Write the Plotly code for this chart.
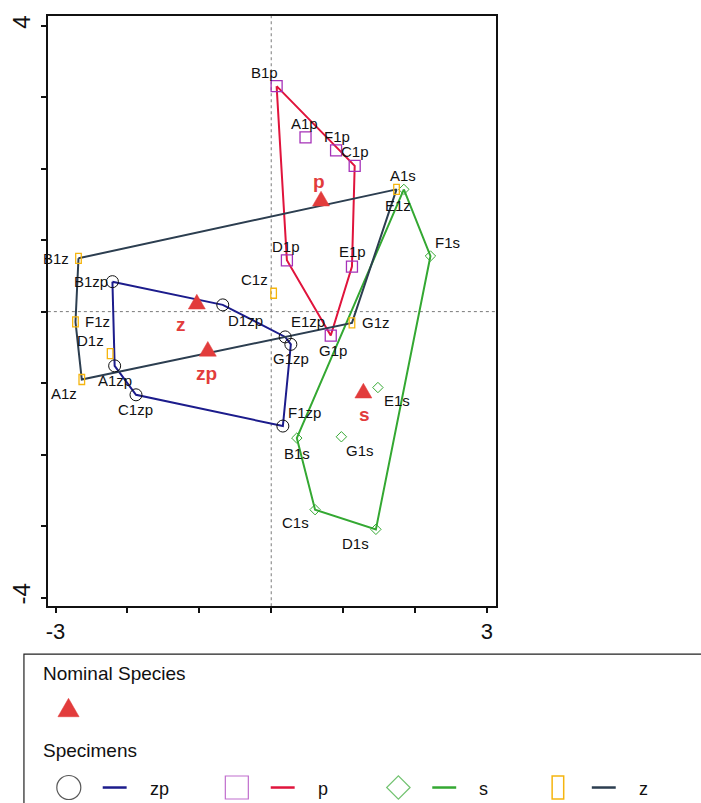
import plotly.graph_objects as go

W, H = 701, 803

# ---- specimen scores (axis 1, axis 2) ----
zp_names = ["A1zp", "B1zp", "C1zp", "D1zp", "E1zp", "F1zp", "G1zp"]
zp_x = [-2.178, -2.209, -1.881, -0.674, 0.194, 0.162, 0.273]
zp_y = [-0.759, 0.419, -1.164, 0.094, -0.354, -1.601, -0.458]

p_names = ["A1p", "B1p", "C1p", "D1p", "E1p", "F1p", "G1p"]
p_x = [0.477, 0.075, 1.161, 0.218, 1.123, 0.902, 0.828]
p_y = [2.437, 3.154, 2.040, 0.718, 0.629, 2.255, -0.335]

s_names = ["A1s", "B1s", "C1s", "D1s", "E1s", "F1s", "G1s"]
s_x = [1.845, 0.356, 0.610, 1.456, 1.484, 2.215, 0.976]
s_y = [1.710, -1.769, -2.771, -3.046, -1.062, 0.778, -1.751]

z_names = ["A1z", "B1z", "C1z", "D1z", "E1z", "F1z", "G1z"]
z_x = [-2.635, -2.681, 0.033, -2.241, 1.743, -2.723, 1.123]
z_y = [-0.950, 0.746, 0.257, -0.587, 1.710, -0.144, -0.158]

# convex hull outlines of each group
zp_hull = ["B1zp", "D1zp", "E1zp", "G1zp", "F1zp", "C1zp", "A1zp", "B1zp"]
p_hull = ["B1p", "C1p", "E1p", "G1p", "D1p", "B1p"]
s_hull = ["A1s", "F1s", "D1s", "C1s", "B1s", "A1s"]
z_hull = ["B1z", "E1z", "G1z", "A1z", "F1z", "B1z"]

# nominal species positions
nom_names = ["zp", "p", "s", "z"]
nom_x = [-0.882, 0.693, 1.282, -1.035]
nom_y = [-0.555, 1.547, -1.140, 0.105]

x_ticks = [-3, -2, -1, 0, 1, 2, 3]
x_ticktext = ["-3", "", "", "", "", "", "3"]
y_ticks = [-4, -3, -2, -1, 0, 1, 2, 3, 4]
y_ticktext = ["-4", "", "", "", "", "", "", "", "4"]

# ---- styling ----
FONT = "Liberation Sans, Arial, sans-serif"
C_ZP_LINE = "#1c1c8c"
C_P_LINE = "#e0143c"
C_P_MARK = "#a530b8"
C_S = "#34a832"
C_Z_MARK = "#f5b50f"
C_Z_LINE = "#2c3e50"
C_NOM = "#e23c3c"

# label offsets (dx, dy) in screen pixels, dy positive downwards
label_offsets = {
    "B1p": (-12, -14), "A1p": (-1, -14), "F1p": (1, -14), "C1p": (0, -14),
    "D1p": (-1, -14), "E1p": (1, -15), "G1p": (2, 15),
    "A1s": (-1, -14), "F1s": (17, -14), "E1s": (19, 13), "G1s": (19, 14),
    "B1s": (0, 15), "C1s": (-20, 13), "D1s": (-20, 14),
    "B1z": (-22, 0), "F1z": (22, 0), "D1z": (-20, -13), "A1z": (-18, 14),
    "C1z": (-19, -14), "G1z": (24, 0), "E1z": (1, 16),
    "B1zp": (-21, 0), "A1zp": (0, 15), "C1zp": (0, 15), "D1zp": (23, 16),
    "E1zp": (23, -15), "G1zp": (0, 14), "F1zp": (22, -14),
}
nom_offsets = {"zp": (-1, 22), "p": (-2, -20), "s": (1, 21), "z": (-16, 20)}

X_RANGE = [-3.107, 3.121]
Y_RANGE = [-4.122, 4.136]
X_DOMAIN = [46 / W, 495 / W]
Y_DOMAIN = [1 - 606 / H, 1 - 15 / H]

TRI_PATH = "M-8.5,-4.9 L8.5,-4.9 L0,9.8 Z"
TRI_PATH_BIG = "M-10.6,-6.1 L10.6,-6.1 L0,12.3 Z"

fig = go.Figure()


def outline(names, xs, ys, order, color):
    idx = {n: i for i, n in enumerate(names)}
    fig.add_trace(go.Scatter(
        x=[xs[idx[n]] for n in order], y=[ys[idx[n]] for n in order],
        mode="lines", line=dict(color=color, width=2),
        hoverinfo="skip", showlegend=False, xaxis="x", yaxis="y"))


outline(zp_names, zp_x, zp_y, zp_hull, C_ZP_LINE)
outline(p_names, p_x, p_y, p_hull, C_P_LINE)
outline(s_names, s_x, s_y, s_hull, C_S)
outline(z_names, z_x, z_y, z_hull, C_Z_LINE)

# specimen markers
fig.add_trace(go.Scatter(x=zp_x, y=zp_y, mode="markers", text=zp_names, showlegend=False,
                         marker=dict(symbol="circle-open", size=12, color="#111111", line=dict(width=1))))
fig.add_trace(go.Scatter(x=p_x, y=p_y, mode="markers", text=p_names, showlegend=False,
                         marker=dict(symbol="square-open", size=11, color=C_P_MARK, line=dict(width=1.3))))
fig.add_trace(go.Scatter(x=s_x, y=s_y, mode="markers", text=s_names, showlegend=False,
                         marker=dict(symbol="diamond-open", size=8, color=C_S, line=dict(width=1))))

shapes = []
annotations = []

# zero reference lines
shapes.append(dict(type="line", xref="x", yref="paper", x0=0, x1=0,
                   y0=Y_DOMAIN[0], y1=Y_DOMAIN[1], layer="below",
                   line=dict(color="#7a7a7a", width=1, dash="dot")))
shapes.append(dict(type="line", xref="paper", yref="y", y0=0, y1=0,
                   x0=X_DOMAIN[0], x1=X_DOMAIN[1], layer="below",
                   line=dict(color="#7a7a7a", width=1, dash="dot")))

# narrow rectangle markers for the z specimens
for xv, yv in zip(z_x, z_y):
    shapes.append(dict(type="rect", xref="x", yref="y", xsizemode="pixel", ysizemode="pixel",
                       xanchor=xv, yanchor=yv, x0=-2.8, x1=2.8, y0=-5, y1=5,
                       line=dict(color=C_Z_MARK, width=1.3), fillcolor="rgba(0,0,0,0)"))

# nominal species triangles
for xv, yv in zip(nom_x, nom_y):
    shapes.append(dict(type="path", xref="x", yref="y", xsizemode="pixel", ysizemode="pixel",
                       xanchor=xv, yanchor=yv, path=TRI_PATH,
                       line=dict(color=C_NOM, width=0.5), fillcolor=C_NOM))

# specimen labels
for names, xs, ys in [(zp_names, zp_x, zp_y), (p_names, p_x, p_y),
                      (s_names, s_x, s_y), (z_names, z_x, z_y)]:
    for n, xv, yv in zip(names, xs, ys):
        dx, dy = label_offsets[n]
        annotations.append(dict(x=xv, y=yv, xref="x", yref="y", text=n, showarrow=False,
                                xshift=dx, yshift=-dy,
                                font=dict(family=FONT, size=15, color="#111111")))

for n, xv, yv in zip(nom_names, nom_x, nom_y):
    dx, dy = nom_offsets[n]
    annotations.append(dict(x=xv, y=yv, xref="x", yref="y", text="<b>%s</b>" % n, showarrow=False,
                            xshift=dx, yshift=-dy,
                            font=dict(family=FONT, size=19, color=C_NOM)))

# ---- key panel below the plot (pixel-based overlay axes) ----
shapes.append(dict(type="rect", xref="x2", yref="y2", x0=22, x1=730, y0=654, y1=830,
                   line=dict(color="#222222", width=1.2), fillcolor="rgba(0,0,0,0)"))
annotations.append(dict(x=39, y=673, xref="x2", yref="y2", text="Nominal Species", showarrow=False,
                        xanchor="left", font=dict(family=FONT, size=19, color="#111111")))
annotations.append(dict(x=39, y=750, xref="x2", yref="y2", text="Specimens", showarrow=False,
                        xanchor="left", font=dict(family=FONT, size=19, color="#111111")))
shapes.append(dict(type="path", xref="x2", yref="y2", xsizemode="pixel", ysizemode="pixel",
                   xanchor=66.7, yanchor=710.5, path=TRI_PATH_BIG,
                   line=dict(color=C_NOM, width=0.5), fillcolor=C_NOM))

key_groups = ["zp", "p", "s", "z"]
key_x = [67, 235.5, 397.5, 557.5]
key_line_colors = [C_ZP_LINE, C_P_LINE, C_S, C_Z_LINE]
KEY_Y = 787.5
fig.add_trace(go.Scatter(x=key_x[:3], y=[KEY_Y] * 3, xaxis="x2", yaxis="y2", mode="markers",
                         showlegend=False, hoverinfo="skip",
                         marker=dict(symbol=["circle-open", "square-open", "diamond-open"],
                                     size=[24, 23, 18], color=["#111111", C_P_MARK, C_S],
                                     line=dict(width=1.2))))
shapes.append(dict(type="rect", xref="x2", yref="y2", x0=key_x[3] - 5.8, x1=key_x[3] + 5.8,
                   y0=KEY_Y - 11.5, y1=KEY_Y + 11.5,
                   line=dict(color=C_Z_MARK, width=1.5), fillcolor="rgba(0,0,0,0)"))
for g, kx, lc in zip(key_groups, key_x, key_line_colors):
    shapes.append(dict(type="line", xref="x2", yref="y2", x0=kx + 34, x1=kx + 58,
                       y0=KEY_Y, y1=KEY_Y, line=dict(color=lc, width=2.5)))
    annotations.append(dict(x=kx + 79, y=KEY_Y + 1, xref="x2", yref="y2", text=g, showarrow=False,
                            xanchor="left", font=dict(family=FONT, size=18, color="#111111")))

axis_common = dict(showgrid=False, zeroline=False, showline=True, mirror=True,
                   linecolor="#111111", linewidth=1.5, ticks="outside", ticklen=5,
                   tickwidth=1.5, tickcolor="#111111")

fig.update_layout(
    width=W, height=H, margin=dict(l=0, r=0, t=0, b=0),
    paper_bgcolor="white", plot_bgcolor="rgba(0,0,0,0)",
    showlegend=False,
    xaxis=dict(range=X_RANGE, domain=X_DOMAIN, anchor="y", tickmode="array",
               tickvals=x_ticks, ticktext=x_ticktext,
               tickfont=dict(family=FONT, size=22, color="#111111"), **axis_common),
    yaxis=dict(range=Y_RANGE, domain=Y_DOMAIN, anchor="x", tickmode="array",
               tickvals=y_ticks, ticktext=y_ticktext, tickangle=-90, ticklabelstandoff=2,
               tickfont=dict(family=FONT, size=24, color="#111111"), **axis_common),
    xaxis2=dict(range=[0, W], domain=[0, 1], anchor="y2", visible=False),
    yaxis2=dict(range=[H, 0], domain=[0, 1], anchor="x2", visible=False),
    shapes=shapes, annotations=annotations,
)

fig.write_html("out.html")
